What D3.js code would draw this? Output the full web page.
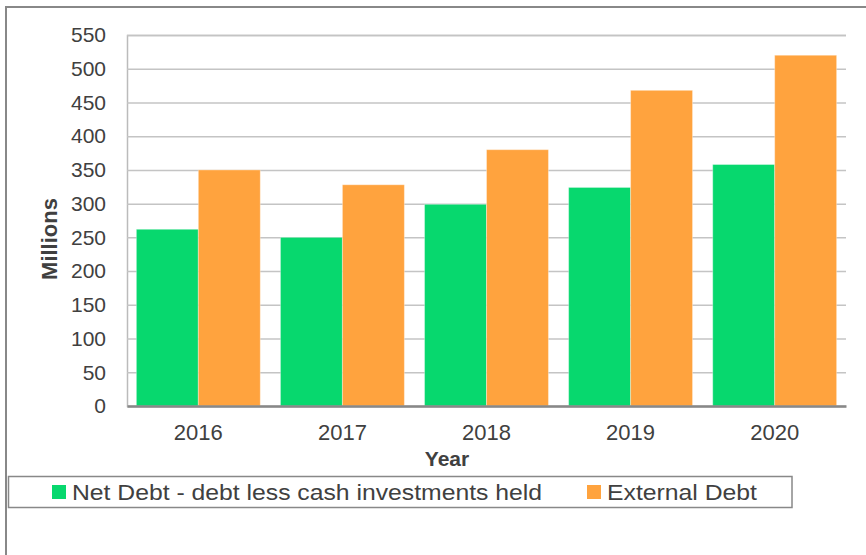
<!DOCTYPE html>
<html><head><meta charset="utf-8">
<script src="https://cdn.jsdelivr.net/npm/d3@7"></script>
<style>body{margin:0;background:#fff}svg{display:block}text{font-family:"Liberation Sans",Arial,sans-serif;fill:#404040}</style>
</head><body>
<svg id="c" width="866" height="555"></svg>
<script>
const years = ["2016","2017","2018","2019","2020"];
const seriesNames = ["Net Debt - debt less cash investments held","External Debt"];
const netDebt = [262, 250, 299, 324, 358];
const externalDebt = [350, 328, 380, 468, 520];
const yTicks = [0,50,100,150,200,250,300,350,400,450,500,550];
const colors = ["#07d86e","#ffa33e"];

const svg = d3.select("#c");
const L = 127, R = 846, T = 35, B = 406;

// frame
svg.append("line").attr("x1",6).attr("x2",866).attr("y1",7).attr("y2",7).attr("stroke","#888").attr("stroke-width",2);
svg.append("line").attr("x1",6).attr("x2",6).attr("y1",6).attr("y2",555).attr("stroke","#888").attr("stroke-width",2);

const y = d3.scaleLinear().domain([0,550]).range([B,T]);
const x = d3.scaleBand().domain(years).range([L,R]).paddingInner(0.14).paddingOuter(0.065);
const xs = d3.scaleBand().domain(seriesNames).range([0,x.bandwidth()]);

// gridlines
const yAxis = d3.axisLeft(y).tickValues(yTicks).tickSize(-(R-L)).tickPadding(21);
const gy = svg.append("g").attr("transform",`translate(${L},0)`).call(yAxis);
gy.select(".domain").attr("stroke","#bbb").attr("stroke-width",1.5);
gy.selectAll(".tick line").attr("stroke","#c4c4c4").attr("stroke-width",1.5);
gy.selectAll(".tick text").attr("font-size",21).attr("fill","#404040").attr("font-family","Liberation Sans, Arial, sans-serif");

// bars
const data = years.map((yr,i)=>({yr, vals:[netDebt[i], externalDebt[i]]}));
const g = svg.append("g");
data.forEach(d=>{
  d.vals.forEach((v,j)=>{
    g.append("rect")
      .attr("x", x(d.yr)+xs(seriesNames[j]))
      .attr("y", y(v))
      .attr("width", xs.bandwidth())
      .attr("height", y(0)-y(v))
      .attr("fill", colors[j])
      .attr("stroke","rgba(255,255,255,0.35)").attr("stroke-width",1);
  });
});

// x axis
const xAxis = d3.axisBottom(x).tickSize(0).tickPadding(18);
const gx = svg.append("g").attr("transform",`translate(0,${B})`).call(xAxis);
gx.select(".domain").attr("stroke","#888").attr("stroke-width",2.5);
gx.selectAll(".tick text").attr("font-size",22).attr("fill","#404040").attr("font-family","Liberation Sans, Arial, sans-serif");

// axis titles
svg.append("text").attr("x",447).attr("y",466).attr("text-anchor","middle")
  .attr("font-size",21).attr("font-weight","bold").text("Year");
svg.append("text").attr("transform","translate(57,239) rotate(-90)").attr("text-anchor","middle")
  .attr("font-size",22).attr("font-weight","bold").text("Millions");

// legend
svg.append("rect").attr("x",8.5).attr("y",476.5).attr("width",783.5).attr("height",31)
  .attr("fill","#fff").attr("stroke","#888").attr("stroke-width",1.5);
const legX = [52, 587];
const legLen = [470, 150];
seriesNames.forEach((s,j)=>{
  svg.append("rect").attr("x",legX[j]).attr("y",485).attr("width",14).attr("height",14).attr("fill",colors[j]);
  svg.append("text").attr("x",legX[j]+20).attr("y",500).attr("font-size",22)
    .attr("textLength",legLen[j]).attr("lengthAdjust","spacingAndGlyphs").text(s);
});
</script>
</body></html>
